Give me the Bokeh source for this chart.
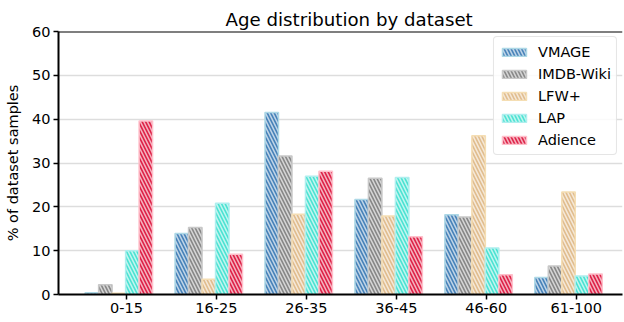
from bokeh.plotting import figure
from bokeh.models import FixedTicker, Range1d, Legend, LegendItem, Span, ColumnDataSource
from bokeh.embed import file_html
from bokeh.resources import INLINE

categories = ["0-15", "16-25", "26-35", "36-45", "46-60", "61-100"]
datasets = ["VMAGE", "IMDB-Wiki", "LFW+", "LAP", "Adience"]
vmage = [0.4, 13.9, 41.5, 21.7, 18.2, 3.9]
imdb_wiki = [2.2, 15.3, 31.6, 26.5, 17.7, 6.5]
lfw_plus = [0.3, 3.5, 18.3, 17.9, 36.2, 23.4]
lap = [10.0, 20.8, 27.0, 26.7, 10.6, 4.2]
adience = [39.6, 9.2, 28.1, 13.2, 4.5, 4.7]
y_ticks = [0, 10, 20, 30, 40, 50, 60]

series = [vmage, imdb_wiki, lfw_plus, lap, adience]
fills = ["#3b7ab4", "#808080", "#deb887", "#40e0d0", "#dc143c"]
edges = ["#add8e6", "#c8c8c8", "#f5deb3", "#afeeee", "#ffc0cb"]

FONT = "DejaVu Sans"
bar_w = 0.15

p = figure(width=624, height=322, output_backend="svg", toolbar_location=None,
           x_range=Range1d(-0.756, 5.515), y_range=Range1d(0, 60),
           min_border_left=58, min_border_right=2, min_border_top=31, min_border_bottom=28,
           title="Age distribution by dataset")
p.title.align = "left"
p.title.text_font = FONT
p.title.text_font_size = "18.2px"
p.title.text_font_style = "normal"
p.title.text_color = "black"
p.title.standoff = 4
p.title.offset = 167

p.outline_line_color = None
p.xgrid.grid_line_color = None
p.ygrid.grid_line_color = "#dddddd"
p.ygrid.grid_line_width = 1.5
p.ygrid.ticker = FixedTicker(ticks=y_ticks)

p.yaxis.ticker = FixedTicker(ticks=y_ticks)
p.xaxis.ticker = FixedTicker(ticks=list(range(len(categories))))
p.xaxis.major_label_overrides = {i: c for i, c in enumerate(categories)}
for ax in (p.xaxis, p.yaxis):
    ax.axis_line_width = 2
    ax.axis_line_color = "black"
    ax.major_tick_line_width = 1.5
    ax.major_tick_line_color = "black"
    ax.major_tick_out = 5
    ax.major_tick_in = 0
    ax.minor_tick_line_color = None
    ax.major_label_text_font = FONT
    ax.major_label_text_font_size = "14.5px"
    ax.major_label_text_color = "black"
    ax.major_label_standoff = 3
p.yaxis.axis_label = "% of dataset samples"
p.yaxis.axis_label_text_font = FONT
p.yaxis.axis_label_text_font_size = "14.5px"
p.yaxis.axis_label_text_font_style = "normal"
p.yaxis.axis_label_text_color = "black"
p.yaxis.axis_label_standoff = 8

items = []
for k, (name, vals) in enumerate(zip(datasets, series)):
    xs = [i + (k - 2.5) * bar_w - 0.01 for i in range(len(categories))]
    src = ColumnDataSource(dict(x=xs, top=vals))
    r = p.vbar(x="x", top="top", width=bar_w, bottom=0, source=src,
               fill_color=fills[k], fill_alpha=0.95,
               line_color=edges[k], line_width=1.5,
               hatch_pattern="\\", hatch_color="white", hatch_alpha=0.65,
               hatch_scale=7, hatch_weight=1.6)
    items.append(LegendItem(label=name, renderers=[r]))

top_spine = Span(location=60, dimension="width", line_color="black", line_width=2)
p.add_layout(top_spine)

legend = Legend(items=items, location="top_right")
legend.label_text_font = FONT
legend.label_text_font_size = "14.5px"
legend.label_text_color = "black"
legend.glyph_width = 30
legend.glyph_height = 10
legend.label_standoff = 9
legend.label_height = 19
legend.spacing = 3
legend.padding = 5
legend.margin = 5
legend.border_line_color = "#cccccc"
legend.border_line_width = 1
legend.border_radius = 4
legend.background_fill_alpha = 0.85
p.add_layout(legend)

open("out.html", "w").write(file_html(p, INLINE))
